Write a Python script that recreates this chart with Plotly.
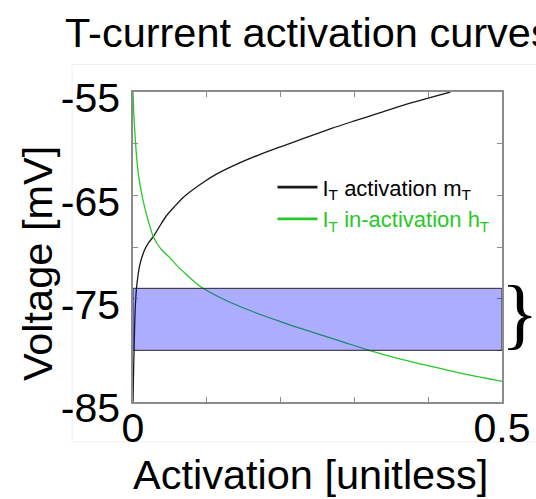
import plotly.graph_objects as go

# T-type calcium current steady-state curves (activation on x, membrane voltage on y)
m_act = [0.0, 0.0005, 0.001, 0.0015, 0.0022, 0.003, 0.0045, 0.0065, 0.009, 0.0125,
         0.0163, 0.021, 0.0275, 0.036, 0.045, 0.056, 0.068, 0.09, 0.113, 0.14,
         0.17, 0.20, 0.235, 0.27, 0.30, 0.335, 0.37, 0.40, 0.43]
m_volt = [-85.0, -83.0, -81.3, -79.8, -77.8, -76.0, -74.2, -72.9, -71.8, -70.9,
          -70.2, -69.6, -69.0, -68.0, -67.0, -66.1, -65.2, -64.0, -62.95, -62.0,
          -61.1, -60.3, -59.4, -58.5, -57.8, -57.0, -56.2, -55.6, -55.0]

h_act = [0.0, 0.001, 0.0027, 0.005, 0.0072, 0.010, 0.014, 0.02, 0.0275, 0.038,
         0.05, 0.061, 0.0728, 0.084, 0.095, 0.11, 0.13, 0.155, 0.181, 0.215,
         0.25, 0.285, 0.32, 0.36, 0.407, 0.45, 0.50]
h_volt = [-55.0, -57.0, -59.2, -61.4, -62.9, -64.2, -65.6, -67.3, -69.0, -70.2,
          -71.05, -71.9, -72.7, -73.4, -74.0, -74.6, -75.3, -76.05, -76.75, -77.6,
          -78.4, -79.2, -80.0, -80.8, -81.6, -82.3, -83.0]

# highlighted voltage window
band_volt = [-80.0, -74.0]

x_tick_vals = [0, 0.1, 0.2, 0.3, 0.4, 0.5]
x_tick_text = ["0", "", "", "", "", "0.5"]
y_tick_vals = [-85, -80, -75, -70, -65, -60, -55]
y_tick_text = ["-85", "", "-75", "", "-65", "", "-55"]

BLACK = "rgb(25,25,25)"
GREEN = "rgb(40,200,40)"
AXIS = "rgb(140,140,140)"
FONT = "Liberation Sans, Arial, sans-serif"

name_m = "I<sub>T</sub> activation m<sub>T</sub>"
name_h = f"<span style='color:{GREEN}'>I<sub>T</sub> in-activation h<sub>T</sub></span>"

fig = go.Figure()
fig.add_trace(go.Scatter(
    x=m_act, y=m_volt, mode="lines", showlegend=False,
    line=dict(color=BLACK, width=1.3, shape="spline", smoothing=0.6),
))
fig.add_trace(go.Scatter(
    x=h_act, y=h_volt, mode="lines", showlegend=False,
    line=dict(color=GREEN, width=1.3, shape="spline", smoothing=0.6),
))
# legend keys with heavier line samples
fig.add_trace(go.Scatter(x=[None], y=[None], mode="lines", name=name_m,
                         line=dict(color=BLACK, width=2.8)))
fig.add_trace(go.Scatter(x=[None], y=[None], mode="lines", name=name_h,
                         line=dict(color=GREEN, width=2.8)))

fig.add_shape(type="rect", xref="x", yref="y", x0=0, x1=0.5,
              y0=band_volt[0], y1=band_volt[1], layer="above",
              fillcolor="rgba(0,0,255,0.32)", line=dict(color="rgb(40,40,40)", width=1))

# faint outer frame around the axes region
fig.add_shape(type="rect", xref="paper", yref="paper", x0=-0.165, x1=1.3,
              y0=-0.129, y1=1.089, layer="below",
              line=dict(color="rgb(240,240,240)", width=1))

# brace marking the voltage window
fig.add_annotation(x=1, xref="paper", xanchor="left", xshift=-3,
                   y=sum(band_volt) / 2, yref="y", yanchor="middle", yshift=6,
                   text="}", showarrow=False,
                   font=dict(family="Liberation Serif, Times New Roman, serif", size=78, color="black"))

# axis titles
fig.add_annotation(x=0.4797, xref="paper", y=-0.234, yref="paper",
                   xanchor="center", yanchor="middle", showarrow=False,
                   text="Activation [unitless]",
                   font=dict(size=41.5, family=FONT, color="black"))
fig.add_annotation(x=-0.260, xref="paper", y=0.445, yref="paper",
                   xanchor="center", yanchor="middle", showarrow=False, textangle=-90,
                   text="Voltage [mV]",
                   font=dict(size=41.5, family=FONT, color="black"))

fig.update_layout(
    width=536, height=499,
    margin=dict(l=133, r=34, t=92, b=97),
    paper_bgcolor="white", plot_bgcolor="white",
    font=dict(family=FONT, color="black"),
    title=dict(text="T-current activation curves", x=65 / 536, xref="container", xanchor="left",
               y=0.935, yref="container", yanchor="middle",
               font=dict(size=41.5, family=FONT, color="black")),
    showlegend=True,
    legend=dict(x=0.378, xanchor="left", y=0.76, yanchor="top",
                bgcolor="rgba(0,0,0,0)", borderwidth=0,
                font=dict(size=22, family=FONT, color="black"),
                itemwidth=40, tracegroupgap=0),
)

fig.update_xaxes(
    range=[0, 0.5], tickvals=x_tick_vals, ticktext=x_tick_text,
    ticks="inside", ticklen=5, tickcolor=AXIS, tickwidth=1,
    showline=True, linecolor=AXIS, linewidth=1.5, mirror="ticks",
    showgrid=False, zeroline=False, automargin=False,
    tickfont=dict(size=41, family=FONT, color="black"), ticklabelstandoff=-11,
)
fig.update_yaxes(
    range=[-85, -55], tickvals=y_tick_vals, ticktext=y_tick_text,
    ticks="inside", ticklen=5, tickcolor=AXIS, tickwidth=1,
    showline=True, linecolor=AXIS, linewidth=1.5, mirror="ticks",
    showgrid=False, zeroline=False, automargin=False,
    tickfont=dict(size=41, family=FONT, color="black"), ticklabelstandoff=3, ticklabelshift=6,
)

fig.write_html("out.html")
